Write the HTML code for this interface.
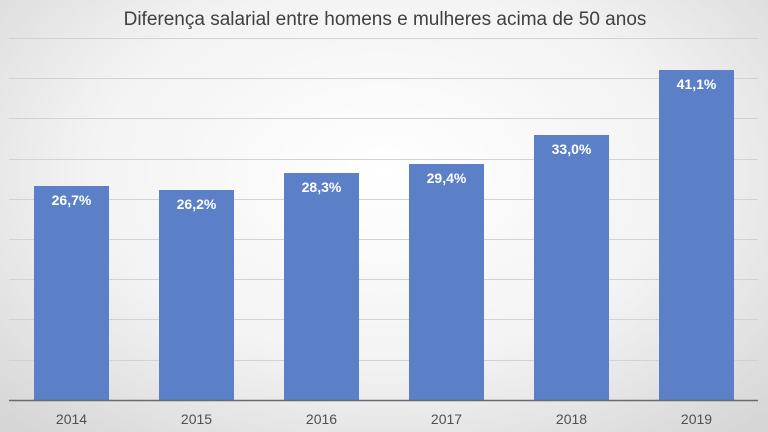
<!DOCTYPE html>
<html><head><meta charset="utf-8"><style>
body{margin:0;width:768px;height:432px;overflow:hidden;background:radial-gradient(ellipse 70% 80% at 50% 40%,#ffffff 0%,#f3f3f3 55%,#d6d6d6 100%);font-family:"Liberation Sans",sans-serif}
</style></head><body>
<svg width="768" height="432" xmlns="http://www.w3.org/2000/svg" style="position:absolute;left:0;top:0">
<text x="385" y="25" text-anchor="middle" font-size="19" fill="#404040" font-family="Liberation Sans">Diferença salarial entre homens e mulheres acima de 50 anos</text>
<g stroke="#d2d2d2" stroke-width="1">
<line x1="9" x2="758" y1="38.5" y2="38.5"/><line x1="9" x2="758" y1="78.5" y2="78.5"/><line x1="9" x2="758" y1="118.5" y2="118.5"/><line x1="9" x2="758" y1="159.5" y2="159.5"/><line x1="9" x2="758" y1="199.5" y2="199.5"/><line x1="9" x2="758" y1="239.5" y2="239.5"/><line x1="9" x2="758" y1="279.5" y2="279.5"/><line x1="9" x2="758" y1="319.5" y2="319.5"/><line x1="9" x2="758" y1="360.5" y2="360.5"/>
</g>
<g fill="#5b80c8">
<rect x="34" y="186" width="75" height="214"/>
<rect x="159" y="190" width="75" height="210"/>
<rect x="284" y="173" width="75" height="227"/>
<rect x="409" y="164" width="75" height="236"/>
<rect x="534" y="135" width="75" height="265"/>
<rect x="659" y="70" width="75" height="330"/>
</g>
<line x1="9" x2="758" y1="400.5" y2="400.5" stroke="#6a6a6a" stroke-width="1.5"/>
<g fill="#fff" font-size="14" font-weight="bold" text-anchor="middle">
<text x="71.5" y="205">26,7%</text><text x="196.5" y="209">26,2%</text><text x="321.5" y="192">28,3%</text><text x="446.5" y="183">29,4%</text><text x="571.5" y="154">33,0%</text><text x="696.5" y="89">41,1%</text>
</g>
<g fill="#505050" font-size="14" text-anchor="middle">
<text x="71.5" y="424">2014</text><text x="196.5" y="424">2015</text><text x="321.5" y="424">2016</text><text x="446.5" y="424">2017</text><text x="571.5" y="424">2018</text><text x="696.5" y="424">2019</text>
</g>
</svg>
</body></html>
